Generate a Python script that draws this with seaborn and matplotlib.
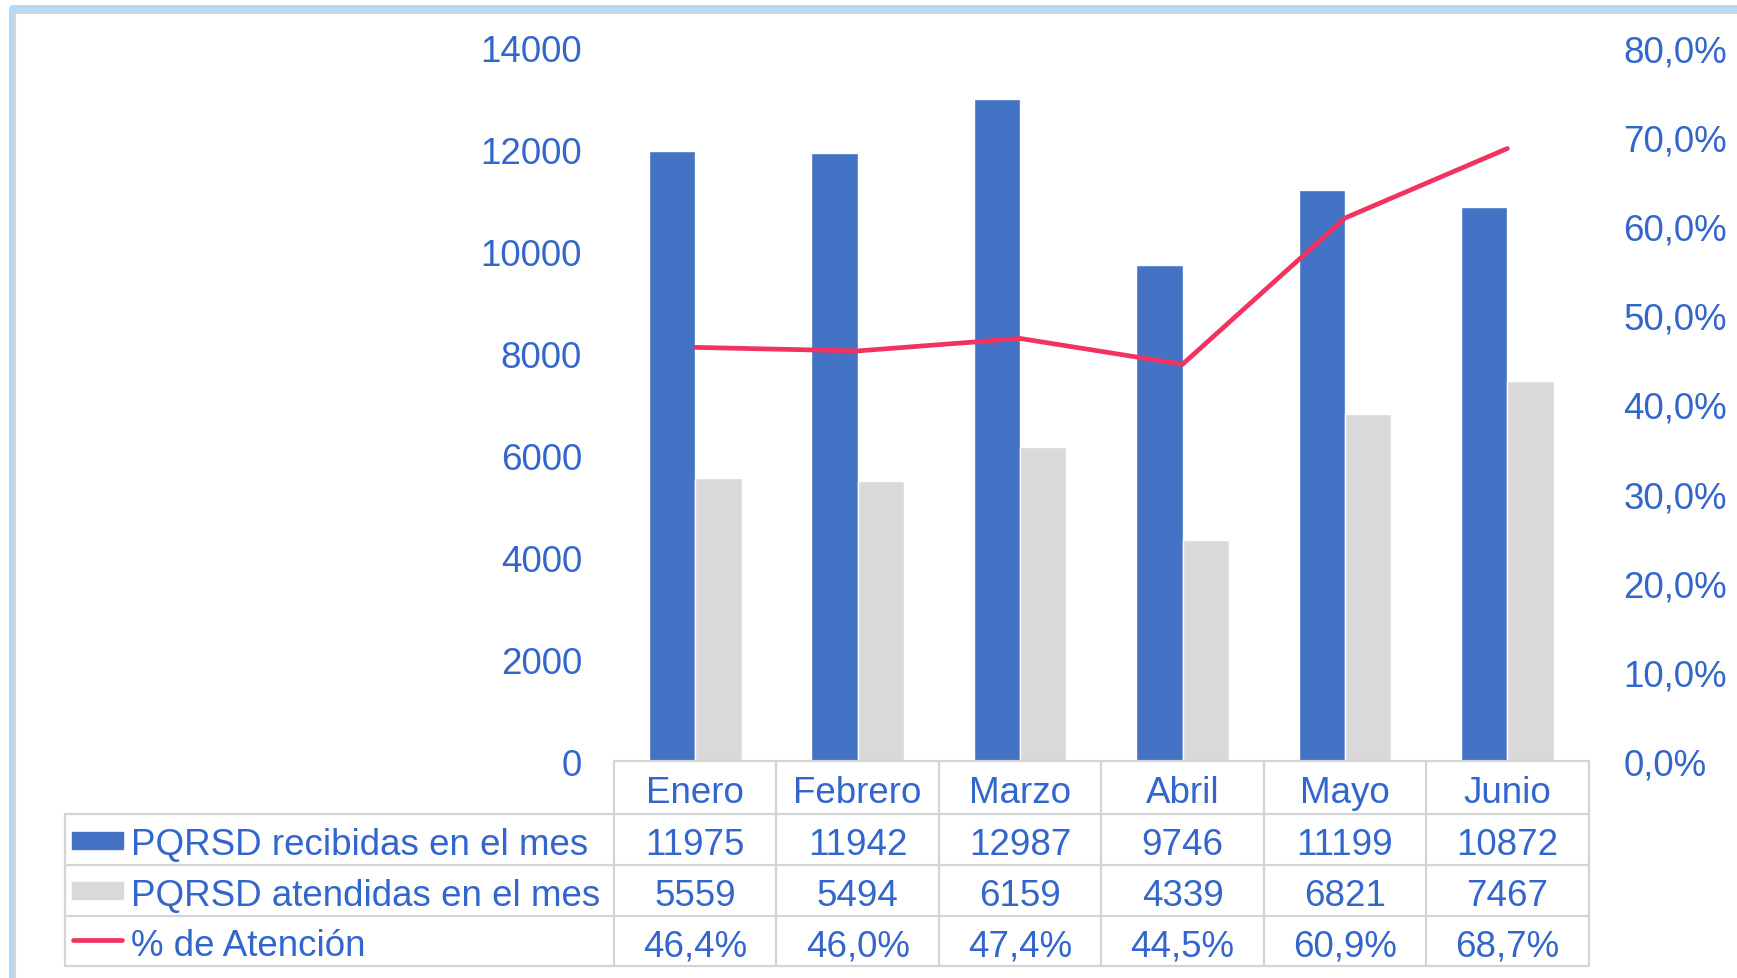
import matplotlib
matplotlib.use("Agg")
import matplotlib.pyplot as plt
import matplotlib.transforms as mtransforms
from matplotlib.lines import Line2D
from matplotlib.patches import Rectangle
import numpy as np
import pandas as pd
import seaborn as sns

# --- data ---
meses = ["Enero", "Febrero", "Marzo", "Abril", "Mayo", "Junio"]
recibidas = [11975, 11942, 12987, 9746, 11199, 10872]
atendidas = [5559, 5494, 6159, 4339, 6821, 7467]
atencion = [0.464, 0.460, 0.474, 0.445, 0.609, 0.687]
series = ["PQRSD recibidas en el mes", "PQRSD atendidas en el mes", "% de Atención"]

BLUE = "#4472C4"
GRAY = "#D9D9D9"
PINK = "#F2335F"
TXT = "#3366CC"
GRID = "#D4D4D4"
FS = 26.5

sns.set_style("white")
plt.rcParams["font.family"] = ["Liberation Sans", "DejaVu Sans"]

df = pd.DataFrame({
    "mes": meses * 2,
    "valor": recibidas + atendidas,
    "serie": [series[0]] * len(meses) + [series[1]] * len(meses),
})

fig = plt.figure(figsize=(17.37, 9.79), dpi=100)
ax = fig.add_axes([0.35348, 0.22145, 0.56108, 0.72880])

sns.barplot(data=df, x="mes", y="valor", hue="serie", palette=[BLUE, GRAY],
            width=0.57, gap=0, ax=ax, legend=False, saturation=1)
ax.set_xlim(-0.5, len(meses) - 0.5)
ax.set_ylim(0, 14000)
ax.set_yticks(range(0, 14001, 2000))
ax.set_xticks([])
ax.set_xlabel("")
ax.set_ylabel("")
ax.tick_params(axis="y", length=0, pad=23, labelsize=FS, labelcolor=TXT)
sns.despine(ax=ax, left=True, bottom=True)

# --- secondary axis: % de atencion ---
ax2 = ax.twinx()
ax2.plot(np.arange(len(meses)), atencion, color=PINK, lw=3.4,
         solid_capstyle="round", solid_joinstyle="round", zorder=5)
ax2.set_ylim(0, 0.8)
ax2.set_yticks(np.arange(0, 0.81, 0.1))
ax2.set_yticklabels([f"{v*100:.1f}%".replace(".", ",") for v in np.arange(0, 0.81, 0.1)])
ax2.tick_params(axis="y", length=0, pad=25, labelsize=FS, labelcolor=TXT)
for s in ax2.spines.values():
    s.set_visible(False)

# --- data table below the plot ---
blend = mtransforms.blended_transform_factory(ax.transData, ax.transAxes)
rows_y = [0, -0.0744, -0.1459, -0.2174, -0.2872]
left_x = -0.5629
n = len(meses)

def hline(x0, x1, y, trans):
    ax.add_line(Line2D([x0, x1], [y, y], color=GRID, lw=1.6, transform=trans, clip_on=False))

hline(-0.5, n - 0.5, rows_y[0], blend)
for y in rows_y[1:]:
    hline(left_x, 1, y, ax.transAxes)
for i in range(n + 1):
    ax.add_line(Line2D([i - 0.5, i - 0.5], [rows_y[0], rows_y[-1]], color=GRID, lw=1.6,
                       transform=blend, clip_on=False))
ax.add_line(Line2D([left_x, left_x], [rows_y[1], rows_y[-1]], color=GRID, lw=1.6,
                   transform=ax.transAxes, clip_on=False))

# text sits a touch below the geometric row center
centers = [(rows_y[k] + rows_y[k + 1]) / 2 - 0.0065 for k in range(4)]
for i, m in enumerate(meses):
    ax.text(i, centers[0], m, transform=blend, ha="center", va="center", fontsize=FS, color=TXT)
    ax.text(i, centers[1], f"{recibidas[i]}", transform=blend, ha="center", va="center",
            fontsize=FS, color=TXT)
    ax.text(i, centers[2], f"{atendidas[i]}", transform=blend, ha="center", va="center",
            fontsize=FS, color=TXT)
    ax.text(i, centers[3], f"{atencion[i]*100:.1f}%".replace(".", ","), transform=blend,
            ha="center", va="center", fontsize=FS, color=TXT)

# legend keys + row labels
ax.add_patch(Rectangle((-0.5562, -0.1234), 0.0524, 0.0238, transform=ax.transAxes,
                       color=BLUE, clip_on=False))
ax.add_patch(Rectangle((-0.5562, -0.1934), 0.0524, 0.0238, transform=ax.transAxes,
                       color=GRAY, clip_on=False))
ax.add_line(Line2D([-0.5552, -0.5048], [-0.2499, -0.2499], color=PINK, lw=3.4,
                   solid_capstyle="round", transform=ax.transAxes, clip_on=False))
for k, s in enumerate(series):
    ax.text(-0.4956, centers[k + 1], s, transform=ax.transAxes, ha="left", va="center",
            fontsize=FS, color=TXT)

# --- chart frame (left and top edges) ---
fig.add_artist(Line2D([12 / 1737, 12 / 1737], [0, 1 - 12 / 979], color="#B3DAF7", lw=5,
                      transform=fig.transFigure))
fig.add_artist(Line2D([12 / 1737, 1], [1 - 9 / 979, 1 - 9 / 979], color="#B3DAF7", lw=5,
                      transform=fig.transFigure))
fig.add_artist(Line2D([15 / 1737, 15 / 1737], [0, 1 - 14 / 979], color="#D6D6D6", lw=1.5,
                      transform=fig.transFigure))
fig.add_artist(Line2D([15 / 1737, 1], [1 - 14 / 979, 1 - 14 / 979], color="#D6D6D6", lw=1.5,
                      transform=fig.transFigure))

fig.savefig("out.png", dpi=100)
